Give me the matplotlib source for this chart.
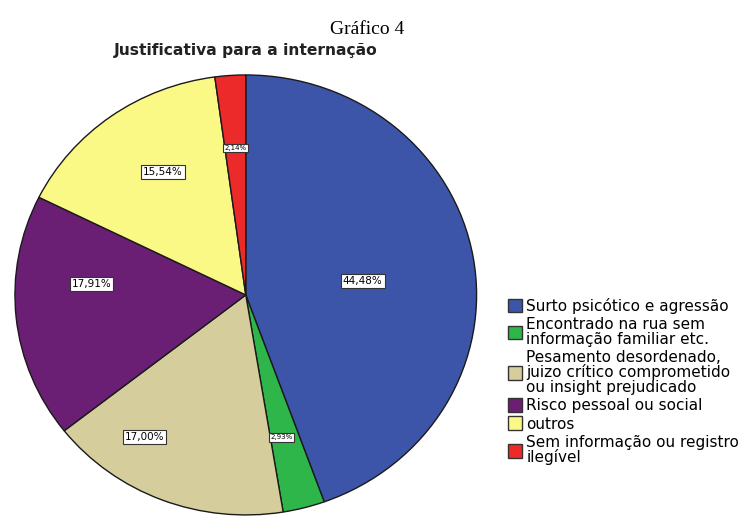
import numpy as np
import matplotlib.pyplot as plt
from matplotlib.patches import Patch

categories = ['Surto psicótico e agressão',
              'Encontrado na rua sem\ninformação familiar etc.',
              'Pesamento desordenado,\njuizo crítico comprometido\nou insight prejudicado',
              'Risco pessoal ou social',
              'outros',
              'Sem informação ou registro\nilegível']
values = [44.48, 2.93, 17.00, 17.91, 15.54, 2.14]
pct_labels = ['44,48%', '2,93%', '17,00%', '17,91%', '15,54%', '2,14%']
colors = ['#3d55a8', '#2fb64a', '#d6cd9c', '#6a1f74', '#fbf985', '#ec2a2a']

# label placement: radius (fraction of pie radius) and angle shift from wedge middle
label_r = [0.51, 0.665, 0.78, 0.67, 0.665, 0.67]
label_shift = [-3, -1, -13, -10, -3, 0]
label_fs = [7.5, 5, 7.5, 7.5, 7.5, 5]

fig = plt.figure(figsize=(7.47, 5.17), dpi=100)
# pie is stretched a bit horizontally in the original
ax = fig.add_axes([0.020, 0.004, 0.618, 0.851])

wedges, _ = ax.pie(values, colors=colors, startangle=90, counterclock=False,
                   wedgeprops=dict(edgecolor='#1a1a1a', linewidth=1.0))
ax.set_aspect('auto')
ax.set_xlim(-1.0, 1.0)
ax.set_ylim(-1.0, 1.0)

for w, txt, r, sh, fs in zip(wedges, pct_labels, label_r, label_shift, label_fs):
    ang = np.deg2rad((w.theta1 + w.theta2) / 2 + sh)
    ax.text(r * np.cos(ang), r * np.sin(ang), txt, ha='center', va='center',
            fontsize=fs, family='DejaVu Sans',
            bbox=dict(boxstyle='square,pad=0.2', facecolor='white', edgecolor='#333333', linewidth=0.8))

fig.text(0.492, 0.942, 'Gráfico 4', ha='center', va='center', fontsize=14, family='Liberation Serif')
fig.text(0.329, 0.903, 'Justificativa para a internação', ha='center', va='center',
         fontsize=11.2, fontweight='bold', family='DejaVu Sans', color='#222222')

handles = [Patch(facecolor=c, edgecolor='#333333') for c in colors]
leg = fig.legend(handles, categories, loc='center left', bbox_to_anchor=(0.68, 0.262),
                 frameon=False, fontsize=11, handlelength=0.95, handleheight=1.0,
                 handletextpad=0.25, labelspacing=0.22, borderaxespad=0, borderpad=0)
for t in leg.get_texts():
    t.set_linespacing(0.95)

fig.savefig('out.png', dpi=100)
